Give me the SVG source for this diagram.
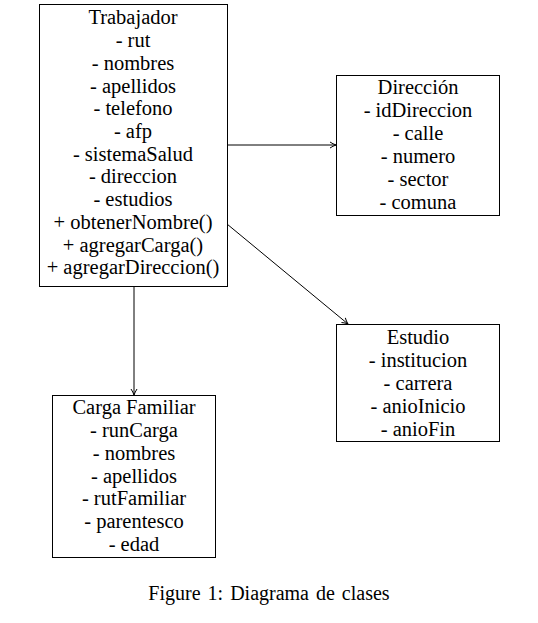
<svg xmlns="http://www.w3.org/2000/svg" width="538" height="623" viewBox="0 0 538 623">
<style>
.box{fill:#fff;stroke:#000;stroke-width:1}
text{font-family:"Liberation Serif","DejaVu Serif",serif;font-size:20.5px;fill:#000;text-anchor:middle}
.cap{font-size:20px;word-spacing:2px}
.conn{stroke:#000;stroke-width:1;fill:none}
</style>
<defs>
<marker id="ah" viewBox="0 0 8 8" refX="7" refY="4" markerWidth="8" markerHeight="8" markerUnits="userSpaceOnUse" orient="auto">
<path d="M1,1 Q4,3 7,4 Q4,5 1,7" fill="none" stroke="#000" stroke-width="1"/>
</marker>
</defs>
<rect width="538" height="623" fill="#fff"/>
<g id="connectors">
<line class="conn" x1="227" y1="145" x2="336" y2="145" marker-end="url(#ah)"/>
<line class="conn" x1="227" y1="224" x2="348" y2="324" marker-end="url(#ah)"/>
<line class="conn" x1="134" y1="286" x2="134" y2="395" marker-end="url(#ah)"/>
</g>
<g id="trabajador">
<rect class="box" x="39.5" y="4.5" width="188" height="282"/>
<text x="133" y="24">Trabajador</text>
<text x="133" y="47">- rut</text>
<text x="133" y="70">- nombres</text>
<text x="133" y="93">- apellidos</text>
<text x="133" y="115">- telefono</text>
<text x="133" y="138">- afp</text>
<text x="133" y="161">- sistemaSalud</text>
<text x="133" y="183">- direccion</text>
<text x="133" y="206">- estudios</text>
<text x="133" y="229">+ obtenerNombre()</text>
<text x="133" y="252">+ agregarCarga()</text>
<text x="133" y="274">+ agregarDireccion()</text>
</g>
<g id="direccion">
<rect class="box" x="336.5" y="75.5" width="163" height="140"/>
<text x="418" y="94">Dirección</text>
<text x="418" y="117">- idDireccion</text>
<text x="418" y="140">- calle</text>
<text x="418" y="163">- numero</text>
<text x="418" y="186">- sector</text>
<text x="418" y="209">- comuna</text>
</g>
<g id="estudio">
<rect class="box" x="336.5" y="324.5" width="163" height="117"/>
<text x="418" y="344">Estudio</text>
<text x="418" y="367">- institucion</text>
<text x="418" y="390">- carrera</text>
<text x="418" y="413">- anioInicio</text>
<text x="418" y="436">- anioFin</text>
</g>
<g id="carga">
<rect class="box" x="52.5" y="395.5" width="163" height="162"/>
<text x="134" y="414">Carga Familiar</text>
<text x="134" y="437">- runCarga</text>
<text x="134" y="460">- nombres</text>
<text x="134" y="483">- apellidos</text>
<text x="134" y="505">- rutFamiliar</text>
<text x="134" y="528">- parentesco</text>
<text x="134" y="551">- edad</text>
</g>
<text class="cap" x="269" y="600">Figure 1: Diagrama de clases</text>
</svg>
